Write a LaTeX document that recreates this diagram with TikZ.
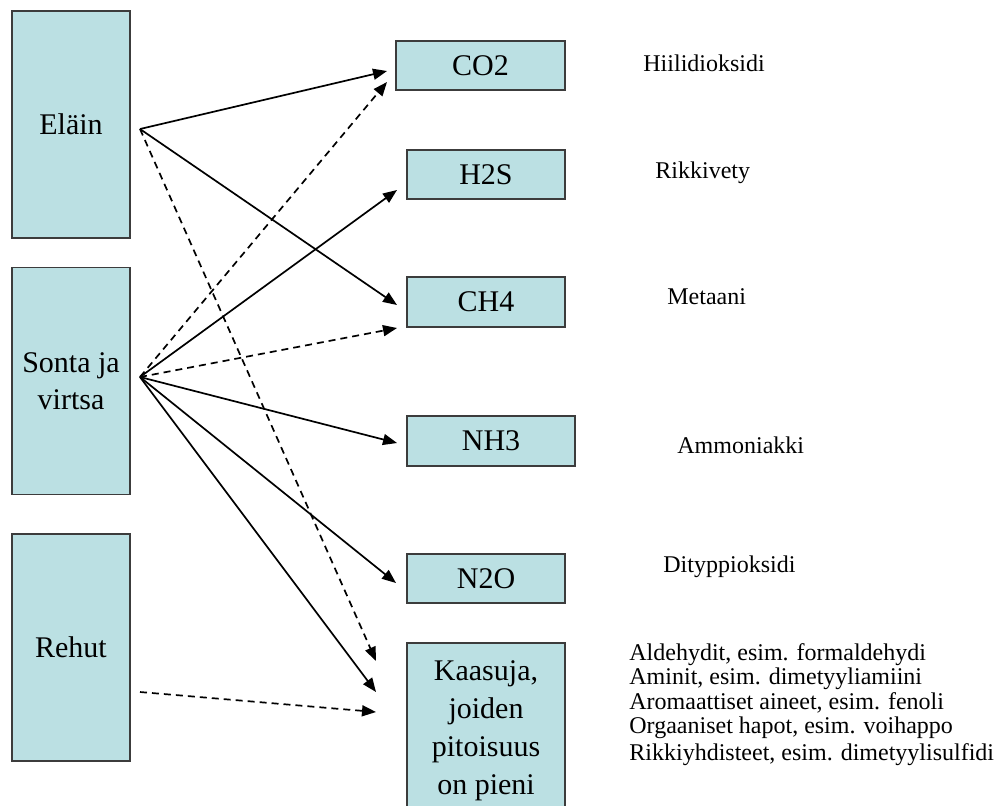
\documentclass[tikz,border=0pt]{standalone}
\usepackage{fontspec}
\setmainfont{Liberation Serif}
\usetikzlibrary{arrows.meta}
\definecolor{boxcyan}{RGB}{187,224,227}
\definecolor{boxline}{RGB}{60,60,60}

\begin{document}
\begin{tikzpicture}
[x=0.5pt,y=-0.5pt,%%%%%%%%%%%%%%%%%%%%%%%%%%%%%%
box/.style={rectangle,draw=boxline,fill=boxcyan,line width=0.75pt,inner sep=0pt,align=center,font=\fontsize{15}{18.5}\selectfont},
source/.style={box,minimum width=59pt,minimum height=113.5pt},
gas/.style={box,minimum height=24.5pt},
gasname/.style={anchor=west,inner sep=0pt,font=\fontsize{12}{14}\selectfont},
flow/.style={-{Triangle[length=7pt,width=5.5pt]},line width=0.85pt},
weak/.style={flow,dash pattern=on 3.5pt off 2.5pt},
]%%%%%%%%%%%%%%%%%%%%%%%%%%%%%%
\useasboundingbox (0,0) rectangle (1000,805);

\node[source] (elain) at (71,124.5){El\"ain};
\node[source] (sonta) at (71,381){Sonta ja\\virtsa};
\node[source] (rehut) at (71,647.5){Rehut};

\node[gas,minimum width=84.5pt] (co2) at (480.5,65.5){CO2};
\node[gas,minimum width=79pt] (h2s) at (486,174.5){H2S};
\node[gas,minimum width=79pt,minimum height=25pt] (ch4) at (486,302){CH4};
\node[gas,minimum width=84pt,minimum height=25pt] (nh3) at (491,441){NH3};
\node[gas,minimum width=79pt] (n2o) at (486,578.5){N2O};
\node[box,minimum width=79pt,minimum height=88pt,font=\fontsize{15}{19}\selectfont] (kaasuja) at (486,731)
  {Kaasuja,\\joiden\\pitoisuus\\on pieni};

\node[gasname] (hiili) at (643,63){Hiilidioksidi};
\node[gasname] (rikki) at (655,173){Rikkivety};
\node[gasname] (metaani) at (667,297){Metaani};
\node[gasname] (ammon) at (677,445){Ammoniakki};
\node[gasname] (dityppi) at (663,567){Dityppioksidi};

\node[gasname] (alde) at (629,655){Aldehydit, esim. formaldehydi};
\node[gasname] (amin) at (629,679){Aminit, esim. dimetyyliamiini};
\node[gasname] (aroma) at (629,703){Aromaattiset aineet, esim. fenoli};
\node[gasname] (orgaa) at (629,728){Orgaaniset hapot, esim. voihappo};
\node[gasname] (rikkiy) at (629,755){Rikkiyhdisteet, esim. dimetyylisulfidi};

% lähtöpisteet
\coordinate (elainout) at (140,129);
\coordinate (sontaout) at (140,377);
\coordinate (rehutout) at (140,692);

% nuolten kärjet
\coordinate (co2a) at (387,71);
\coordinate (co2b) at (387,82);
\coordinate (h2sa) at (397,190);
\coordinate (ch4a) at (397,305);
\coordinate (ch4b) at (397,328);
\coordinate (nh3a) at (397,443);
\coordinate (n2oa) at (396,583);
\coordinate (kaasa) at (376,661);
\coordinate (kaasb) at (376,692);
\coordinate (kaasc) at (376,712);

\draw[flow] (elainout) -- (co2a);
\draw[flow] (elainout) -- (ch4a);
\draw[weak] (elainout) -- (kaasa);

\draw[weak] (sontaout) -- (co2b);
\draw[flow] (sontaout) -- (h2sa);
\draw[weak] (sontaout) -- (ch4b);
\draw[flow] (sontaout) -- (nh3a);
\draw[flow] (sontaout) -- (n2oa);
\draw[flow] (sontaout) -- (kaasb);

\draw[weak] (rehutout) -- (kaasc);
\end{tikzpicture}
\end{document}
